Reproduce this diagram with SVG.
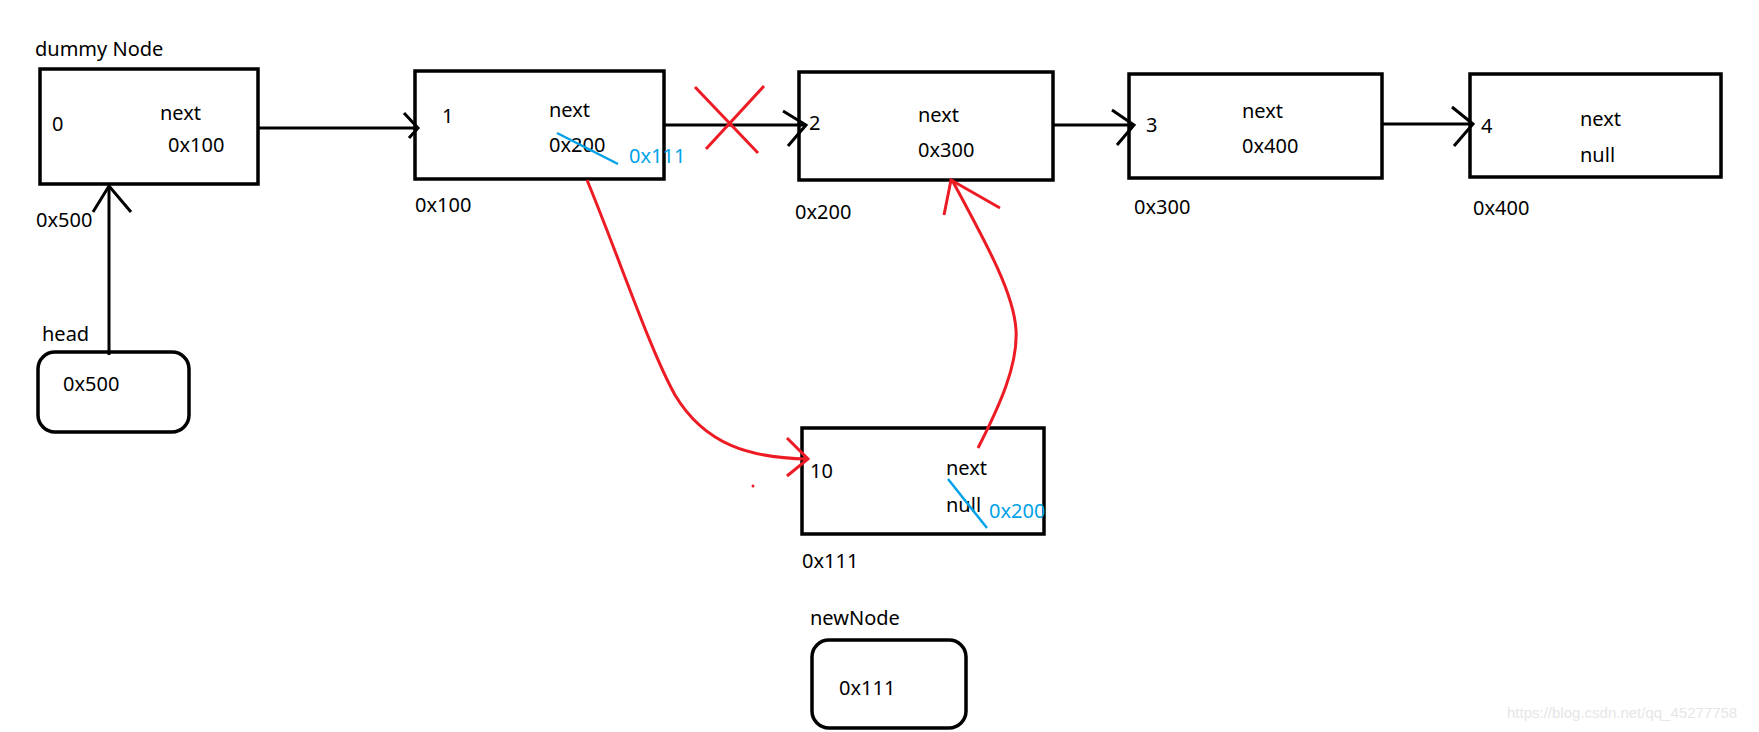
<svg xmlns="http://www.w3.org/2000/svg" width="1759" height="732" viewBox="0 0 1759 732">
<style>
.box{fill:#fff;stroke:#000;stroke-width:3.5}
.t{font-family:"Noto Sans","DejaVu Sans",sans-serif;font-size:20px;fill:#000}
.b{fill:#00a2e8}
.bl{stroke:#00a2e8;stroke-width:2.5;fill:none}
.k{stroke:#000;stroke-width:3;fill:none;stroke-linejoin:miter}
.r{stroke:#ed1c24;stroke-width:3;fill:none}
.wm{font-family:"Liberation Sans",Arial,sans-serif;font-size:15px;fill:#e6e6e6}
</style>
<rect width="1759" height="732" fill="#fff"/>
<g id="dummy">
<rect class="box" x="40" y="69" width="218" height="115"/>
<text class="t" x="35" y="56">dummy Node</text>
<text class="t" x="52" y="131">0</text>
<text class="t" x="160" y="120">next</text>
<text class="t" x="168" y="152">0x100</text>
<text class="t" x="36" y="227">0x500</text>
</g>
<g id="node1">
<rect class="box" x="415" y="71" width="249" height="108"/>
<text class="t" x="442" y="123">1</text>
<text class="t" x="549" y="117">next</text>
<text class="t" x="549" y="152">0x200</text>
<line class="bl" x1="557" y1="133" x2="618" y2="164"/>
<text class="t b" x="629" y="163">0x111</text>
<text class="t" x="415" y="212">0x100</text>
</g>
<g id="node2">
<rect class="box" x="799" y="72" width="254" height="108"/>
<text class="t" x="809" y="130">2</text>
<text class="t" x="918" y="122">next</text>
<text class="t" x="918" y="157">0x300</text>
<text class="t" x="795" y="219">0x200</text>
</g>
<g id="node3">
<rect class="box" x="1129" y="74" width="253" height="104"/>
<text class="t" x="1146" y="132">3</text>
<text class="t" x="1242" y="118">next</text>
<text class="t" x="1242" y="153">0x400</text>
<text class="t" x="1134" y="214">0x300</text>
</g>
<g id="node4">
<rect class="box" x="1470" y="74" width="251" height="103"/>
<text class="t" x="1481" y="133">4</text>
<text class="t" x="1580" y="126">next</text>
<text class="t" x="1580" y="162">null</text>
<text class="t" x="1473" y="215">0x400</text>
</g>
<g id="head">
<rect class="box" x="38" y="352" width="151" height="80" rx="17"/>
<text class="t" x="42" y="341">head</text>
<text class="t" x="63" y="391">0x500</text>
</g>
<g id="node10">
<rect class="box" x="802" y="428" width="242" height="106"/>
<text class="t" x="810" y="478">10</text>
<text class="t" x="946" y="475">next</text>
<text class="t" x="946" y="512">null</text>
<line class="bl" x1="948" y1="479" x2="987" y2="528"/>
<text class="t b" x="989" y="518">0x200</text>
<text class="t" x="802" y="568">0x111</text>
</g>
<g id="newNode">
<rect class="box" x="812" y="640" width="154" height="88" rx="17"/>
<text class="t" x="810" y="625">newNode</text>
<text class="t" x="839" y="695">0x111</text>
</g>
<g id="connectors">
<line class="k" x1="258" y1="128" x2="418" y2="128"/>
<polyline class="k" points="404,113 418,128 409,138"/>
<line class="k" x1="109" y1="355" x2="109" y2="186"/>
<polyline class="k" points="93,212 109,186 131,212"/>
<line class="k" x1="664" y1="125" x2="806" y2="125"/>
<polyline class="k" points="783,111 806,125 788,146"/>
<line class="k" x1="1053" y1="125" x2="1134" y2="125"/>
<polyline class="k" points="1112,110 1134,125 1117,145"/>
<line class="k" x1="1382" y1="124" x2="1473" y2="124"/>
<polyline class="k" points="1452,107 1473,124 1454,146"/>
<line class="r" x1="695" y1="87" x2="758" y2="153"/>
<line class="r" x1="764" y1="86" x2="706" y2="149"/>
<path class="r" d="M587,180 C620,260 650,350 675,395 C705,445 750,458 808,459"/>
<polyline class="r" points="787,438 808,459 787,476"/>
<circle cx="753" cy="486" r="1.5" fill="#ed1c24"/>
<path class="r" d="M978,448 C1000,405 1018,365 1016,330 C1014,295 990,250 952,180"/>
<polyline class="r" points="944,215 951,180 1000,208"/>
</g>
<text class="wm" x="1507" y="718">https://blog.csdn.net/qq_45277758</text>
</svg>
